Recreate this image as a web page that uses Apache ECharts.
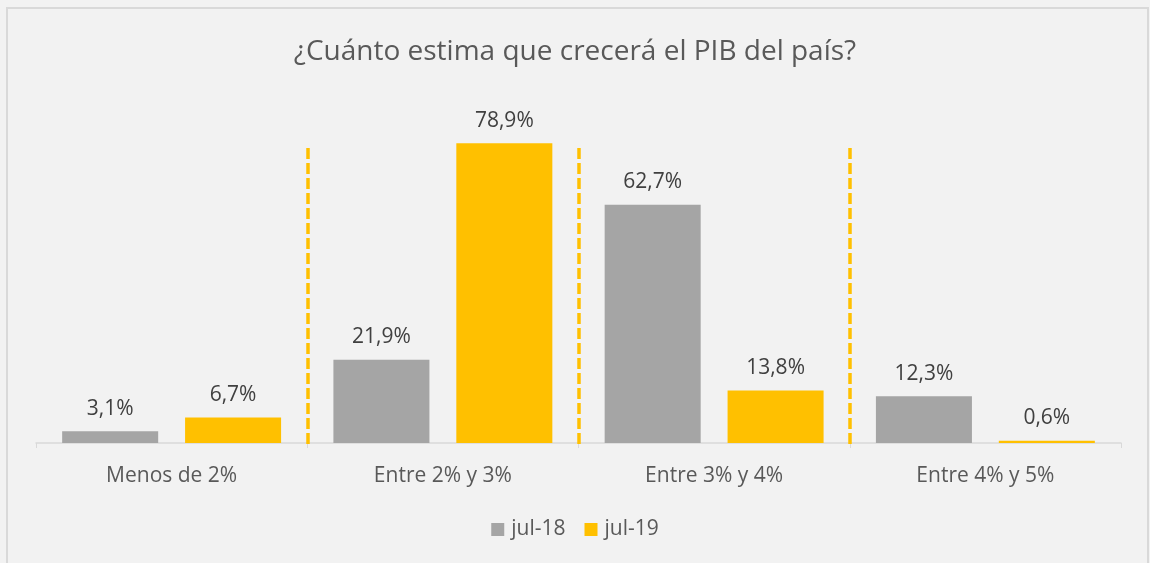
<!DOCTYPE html>
<html>
<head>
<meta charset="utf-8">
<script src="https://cdn.jsdelivr.net/npm/echarts@6/dist/echarts.min.js"></script>
<style>
  html, body { margin: 0; padding: 0; background: #f2f2f2; }
  #chart { width: 1150px; height: 563px; }
</style>
</head>
<body>
<div id="chart"></div>
<script>
const categories = ['Menos de 2%', 'Entre 2% y 3%', 'Entre 3% y 4%', 'Entre 4% y 5%'];
const jul18 = [3.1, 21.9, 62.7, 12.3];
const jul19 = [6.7, 78.9, 13.8, 0.6];
const separators = [1, 2, 3];

const chart = echarts.init(document.getElementById('chart'));
const font = '"Open Sans", "Noto Sans", sans-serif';
const pct = p => p.value.toFixed(1).replace('.', ',') + '%';

const option = {
  backgroundColor: '#f2f2f2',
  textStyle: { fontFamily: font },
  title: {
    text: '¿Cuánto estima que crecerá el PIB del país?',
    left: 'center',
    top: 33,
    textStyle: { fontFamily: font, fontSize: 28, fontWeight: 'normal', color: '#595959' }
  },
  legend: {
    bottom: 18,
    left: 'center',
    itemWidth: 13,
    itemHeight: 13,
    itemGap: 19,
    icon: 'rect',
    textStyle: { fontFamily: font, fontSize: 21, color: '#595959', padding: [0, 0, 0, 2] },
    data: ['jul-18', 'jul-19']
  },
  graphic: [{
    type: 'rect',
    shape: { x: 7, y: 8, width: 1141, height: 580 },
    style: { fill: 'none', stroke: '#d9d9d9', lineWidth: 2 },
    silent: true
  }],
  grid: { left: 36, right: 29, top: 101, bottom: 101 },
  xAxis: [{
    type: 'category',
    data: categories,
    axisLine: { onZero: true, lineStyle: { color: '#d9d9d9', width: 1.5 } },
    axisTick: { show: true, length: 5, lineStyle: { color: '#d9d9d9' } },
    axisLabel: { margin: 4, fontFamily: font, fontSize: 21, color: '#595959' }
  }, {
    type: 'value',
    min: 0,
    max: 4,
    show: false
  }],
  yAxis: {
    type: 'value',
    min: -5,
    max: 90,
    show: false,
    splitLine: { show: false }
  },
  series: [{
    name: 'jul-18',
    type: 'bar',
    data: jul18,
    barWidth: '35.4%',
    barGap: '28%',
    itemStyle: { color: '#a5a5a5' },
    label: { show: true, position: 'top', distance: 12, formatter: pct, fontFamily: font, fontSize: 21, color: '#404040' }
  }, {
    name: 'jul-19',
    type: 'bar',
    data: jul19,
    barWidth: '35.4%',
    itemStyle: { color: '#ffc000' },
    label: { show: true, position: 'top', distance: 12, formatter: pct, fontFamily: font, fontSize: 21, color: '#404040' }
  }, {
    name: 'sep',
    type: 'scatter',
    xAxisIndex: 1,
    data: [],
    silent: true,
    markLine: {
      symbol: 'none',
      silent: true,
      label: { show: false },
      lineStyle: { color: '#ffc000', width: 3.5, type: [11, 4] },
      data: separators.map(s => [{ coord: [s, 77.6] }, { coord: [s, -1.3] }])
    }
  }]
};

option && chart.setOption(option);
</script>
</body>
</html>
